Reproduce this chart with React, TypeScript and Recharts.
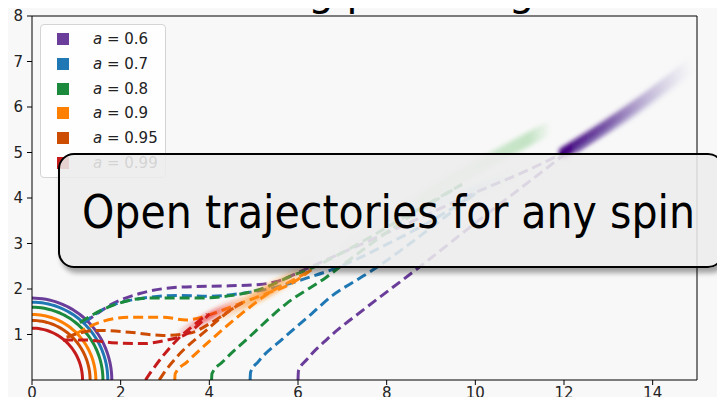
import { LineChart, Line, XAxis, YAxis, ReferenceLine } from 'recharts';

const spins = [0.6, 0.7, 0.8, 0.9, 0.95, 0.99];
const colors = ['#6a3d9a', '#1f78b4', '#1b8a3c', '#ff7f00', '#cc4c02', '#c51b1b'];
const horizonRadii = [1.8, 1.71, 1.6, 1.44, 1.31, 1.14];
const xTicks = [0, 2, 4, 6, 8, 10, 12, 14];
const yTicks = [1, 2, 3, 4, 5, 6, 7, 8];

// trajectories leaving near the horizon (upper) and from the x axis (lower), [x, y]
const upperPaths = [
  [[1.19, 1.27], [1.5, 1.48], [1.75, 1.64], [2.43, 1.9], [3.33, 2.04], [4.46, 2.07], [5.14, 2.1], [5.5, 2.16], [6.2, 2.45], [7, 2.8], [8.5, 3.45], [10, 4.12], [11.2, 4.62], [12, 5.0]],
  [[1.15, 1.25], [1.6, 1.55], [2.2, 1.75], [3.33, 1.86], [4.0, 1.84], [4.7, 1.9], [5.51, 2.04], [6.26, 2.26], [6.78, 2.43], [8, 2.98], [9.1, 3.55], [10, 4.1]],
  [[1.08, 1.26], [1.4, 1.45], [1.82, 1.64], [2.65, 1.8], [3.7, 1.8], [4.53, 1.86], [5.29, 2.04], [5.88, 2.3], [6.19, 2.41], [7, 2.8], [8.4, 3.58], [9.7, 4.3]],
  [[1.0, 1.02], [1.45, 1.24], [2.2, 1.38], [2.95, 1.38], [3.48, 1.32], [4.08, 1.46], [4.69, 1.68], [5.29, 1.9], [5.81, 2.1], [6.3, 2.42]],
  [[0.78, 0.94], [1.45, 1.09], [2.2, 1.05], [2.95, 0.98], [3.56, 1.03], [4.01, 1.24], [4.53, 1.57], [4.75, 1.7]],
  [[0.7, 0.88], [1.2, 0.88], [1.8, 0.82], [2.5, 0.8], [3.0, 0.87], [3.5, 1.02], [3.85, 1.3], [4.0, 1.45]],
];

const lowerPaths = [
  [[6.0, 0], [6.01, 0.2], [6.2, 0.45], [6.67, 0.91], [7.55, 1.6], [8.59, 2.37], [10, 3.45], [11, 4.2], [12, 4.95]],
  [[4.92, 0], [4.93, 0.17], [5.1, 0.4], [5.66, 0.91], [6.3, 1.45], [6.78, 1.86], [7.33, 2.2], [7.66, 2.4], [8.8, 3.2], [10, 4.1]],
  [[4.05, 0], [4.06, 0.14], [4.3, 0.4], [4.84, 0.89], [5.74, 1.68], [6.64, 2.26], [6.94, 2.48], [8.2, 3.38], [9.7, 4.3]],
  [[3.22, 0], [3.23, 0.14], [3.5, 0.4], [4.08, 0.92], [4.91, 1.6], [5.29, 1.88], [5.9, 2.2], [6.3, 2.42]],
  [[2.87, 0], [2.95, 0.12], [3.26, 0.5], [3.93, 1.09], [4.53, 1.57], [4.75, 1.7]],
  [[2.56, 0], [2.7, 0.2], [3.26, 0.87], [3.78, 1.31], [3.95, 1.45]],
];

// blurred fronts of the particle bunches
const streakPaths = [
  [[12, 5.0], [13, 5.62], [14, 6.3], [14.9, 6.98]],
  [[12.3, 5.08], [13.5, 5.8], [15, 6.85]],
  [[6.8, 2.7], [9, 4.1], [11.7, 5.55]],
  [[8.6, 3.7], [11, 4.55]],
  [[4.3, 1.45], [5.3, 1.95], [6.3, 2.5]],
  [[3.4, 1.05], [4.0, 1.4], [4.7, 1.75]],
];
const streakGrads = ['gPurple', 'gPurple2', 'gGreen', 'gBlue', 'gOrange', 'gRed'];
const streakWidths = [11, 6, 13, 8, 11, 7];

const toPoints = (path: number[][]) => path.map(([x, y]) => ({ x, y }));
const toArc = (r: number) =>
  Array.from({ length: 37 }, (_, i) => {
    const t = (i / 36) * (Math.PI / 2);
    return { x: r * Math.cos(t), y: r * Math.sin(t) };
  });

export default function App() {
  return (
    <div style={{ position: 'relative', width: 725, height: 405, margin: -8, background: '#f8f8f8', overflow: 'hidden', fontFamily: 'DejaVu Sans' }}>
      <LineChart width={725} height={405} margin={{ top: 16, right: 28, bottom: 0, left: 0 }}>
        <defs>
          <filter id="soft" x="-20%" y="-20%" width="140%" height="140%">
            <feGaussianBlur stdDeviation="2" />
          </filter>
          <linearGradient id="gPurple" x1="0" y1="0" x2="1" y2="0">
            <stop offset="0" stopColor="#3f007d" stopOpacity={1} />
            <stop offset="0.35" stopColor="#54278f" stopOpacity={0.75} />
            <stop offset="1" stopColor="#9e9ac8" stopOpacity={0} />
          </linearGradient>
          <linearGradient id="gPurple2" x1="0" y1="0" x2="1" y2="0">
            <stop offset="0" stopColor="#6a51a3" stopOpacity={0.6} />
            <stop offset="1" stopColor="#bcbddc" stopOpacity={0} />
          </linearGradient>
          <linearGradient id="gGreen" x1="0" y1="0" x2="1" y2="0">
            <stop offset="0" stopColor="#74c476" stopOpacity={0} />
            <stop offset="0.5" stopColor="#74c476" stopOpacity={0.25} />
            <stop offset="0.9" stopColor="#74c476" stopOpacity={0.4} />
            <stop offset="1" stopColor="#74c476" stopOpacity={0} />
          </linearGradient>
          <linearGradient id="gBlue" x1="0" y1="0" x2="1" y2="0">
            <stop offset="0" stopColor="#6baed6" stopOpacity={0.1} />
            <stop offset="0.6" stopColor="#6baed6" stopOpacity={0.35} />
            <stop offset="1" stopColor="#6baed6" stopOpacity={0} />
          </linearGradient>
          <linearGradient id="gOrange" x1="0" y1="0" x2="1" y2="0">
            <stop offset="0" stopColor="#ff8c1a" stopOpacity={0.15} />
            <stop offset="0.5" stopColor="#ff8c1a" stopOpacity={0.75} />
            <stop offset="1" stopColor="#ffb060" stopOpacity={0.1} />
          </linearGradient>
          <linearGradient id="gRed" x1="0" y1="0" x2="1" y2="0">
            <stop offset="0" stopColor="#e31a1c" stopOpacity={0.2} />
            <stop offset="0.5" stopColor="#e31a1c" stopOpacity={0.7} />
            <stop offset="1" stopColor="#fb6a4a" stopOpacity={0.1} />
          </linearGradient>
        </defs>
        <XAxis
          type="number"
          dataKey="x"
          domain={[0, 15]}
          ticks={xTicks}
          height={25}
          allowDataOverflow
          stroke="#000"
          tickSize={5}
          tick={{ fill: '#222', fontSize: 15, fontFamily: 'DejaVu Sans' }}
        />
        <YAxis
          type="number"
          dataKey="y"
          domain={[0, 8]}
          ticks={yTicks}
          width={32}
          allowDataOverflow
          stroke="#000"
          tickSize={5}
          tickMargin={4}
          tick={{ fill: '#222', fontSize: 15, fontFamily: 'DejaVu Sans' }}
        />
        <ReferenceLine y={8} stroke="#000" />
        <ReferenceLine x={15} stroke="#000" />
        {horizonRadii.map((r, i) => (
          <Line
            key={`h${i}`}
            data={toArc(r)}
            dataKey="y"
            type="linear"
            stroke={colors[i]}
            strokeWidth={3}
            dot={false}
            activeDot={false}
            isAnimationActive={false}
          />
        ))}
        {upperPaths.map((p, i) => (
          <Line
            key={`u${i}`}
            data={toPoints(p)}
            dataKey="y"
            type="monotone"
            stroke={colors[i]}
            strokeWidth={3}
            strokeDasharray="10 5"
            dot={false}
            activeDot={false}
            isAnimationActive={false}
          />
        ))}
        {lowerPaths.map((p, i) => (
          <Line
            key={`l${i}`}
            data={toPoints(p)}
            dataKey="y"
            type="monotone"
            stroke={colors[i]}
            strokeWidth={3}
            strokeDasharray="10 5"
            dot={false}
            activeDot={false}
            isAnimationActive={false}
          />
        ))}
        {streakPaths.map((p, i) => (
          <Line
            key={`s${i}`}
            data={toPoints(p)}
            dataKey="y"
            type="monotone"
            stroke={`url(#${streakGrads[i]})`}
            strokeWidth={streakWidths[i]}
            strokeLinecap="round"
            filter="url(#soft)"
            dot={false}
            activeDot={false}
            isAnimationActive={false}
          />
        ))}
      </LineChart>

      <div style={{ position: 'absolute', left: 40, top: 24, width: 124, height: 152, border: '1px solid #d4d4d4', borderRadius: 4, background: 'rgba(255,255,255,0.8)' }}>
        {spins.map((a, i) => (
          <div key={a} style={{ position: 'absolute', left: 0, top: 6 + i * 24.8, height: 16, display: 'flex', alignItems: 'center' }}>
            <div style={{ width: 12, height: 12, marginLeft: 16, background: colors[i] }} />
            <span style={{ marginLeft: 24, fontSize: 15, color: '#222', whiteSpace: 'nowrap' }}>
              <i>a</i> = {a}
            </span>
          </div>
        ))}
      </div>

      <div style={{ position: 'absolute', left: 58, top: 153, width: 662, height: 111, border: '2px solid #000', borderRadius: 16, background: 'rgba(236,236,236,0.88)', boxShadow: '3px 5px 5px rgba(0,0,0,0.35)' }}>
        <svg width={662} height={111} style={{ display: 'block' }}>
          <text x={22} y={73} fontSize={46} fill="#000" fontFamily="'DejaVu Sans Condensed', 'DejaVu Sans'" style={{ fontStretch: 'condensed' }} textLength={613} lengthAdjust="spacingAndGlyphs">
            Open trajectories for any spin
          </text>
        </svg>
      </div>

      <svg width={725} height={20} style={{ position: 'absolute', left: 0, top: 0 }}>
        <text x={127} y={4.5} fontSize={40} fill="#000" fontFamily="'DejaVu Sans'" textLength={443} lengthAdjust="spacingAndGlyphs">
          Increasing pitch angle
        </text>
      </svg>
    </div>
  );
}
